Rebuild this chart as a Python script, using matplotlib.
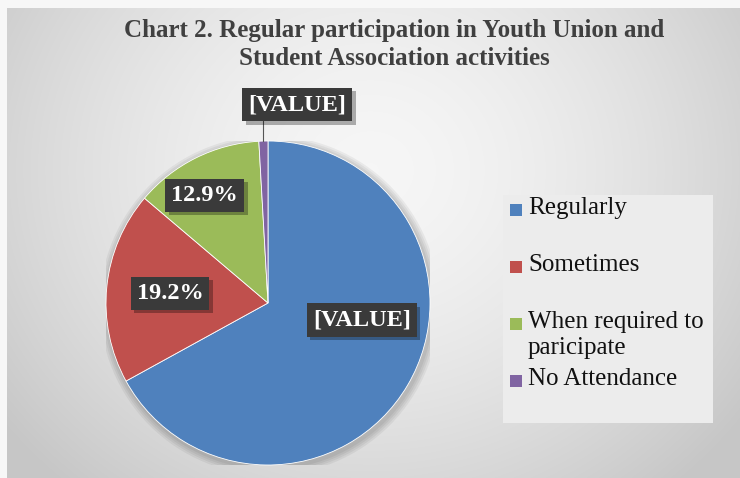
import numpy as np
import matplotlib
matplotlib.use("Agg")
import matplotlib.pyplot as plt
from matplotlib.patches import Rectangle
import matplotlib.patheffects as pe

# ---- data ----
categories = ["Regularly", "Sometimes", "When required to\nparicipate", "No Attendance"]
values = [67.0, 19.2, 12.9, 0.9]
label_texts = ["[VALUE]", "19.2%", "12.9%", "[VALUE]"]
colors = ["#4f81bd", "#c0504d", "#9bbb59", "#8064a2"]
title_lines = ["Chart 2. Regular participation in Youth Union and",
               "Student Association activities"]

W, H = 740, 478
fig = plt.figure(figsize=(W / 100, H / 100), dpi=100)

# background gradient
bg = fig.add_axes([0, 0, 1, 1])
yy, xx = np.mgrid[0:H, 0:W]
d = np.sqrt(((xx - 370) / 420.0) ** 2 + ((yy - 170) / 380.0) ** 2)
g = np.clip(0.965 - 0.16 * d ** 1.6, 0.78, 1)
img = np.dstack([g, g, g])
img[:8, :, :] = 0.97
img[:, :7, :] = 0.97
bg.imshow(img, extent=[0, W, H, 0], aspect="auto", interpolation="bilinear")
bg.set_xlim(0, W)
bg.set_ylim(H, 0)
bg.axis("off")

serif = ["Liberation Serif", "DejaVu Serif"]

for line, yb in zip(title_lines, [37, 65]):
    fig.text(394 / W, 1 - yb / H, line, ha="center", va="baseline", fontsize=18,
             fontweight="bold", family=serif, color="#404040")

# pie
cx, cy, R = 268, 303, 162
ax = fig.add_axes([(cx - R) / W, (H - cy - R) / H, 2 * R / W, 2 * R / H])
for k in range(4):
    ax.add_patch(plt.Circle((0.01, -0.015), 1.0 + 0.012 * (k + 1), color="black", alpha=0.05, lw=0))
wedges, _ = ax.pie(values, colors=colors, startangle=90, counterclock=False,
                   radius=1.0, wedgeprops=dict(linewidth=0.6, edgecolor="white"))
ax.set_xlim(-1.0, 1.0)
ax.set_ylim(-1.0, 1.0)
ax.set_aspect("equal")
ax.axis("off")

label_pos = [(0.58, -0.105), (-0.605, 0.06), (-0.39, 0.665), (0.18, 1.225)]
for txt, (x, y) in zip(label_texts, label_pos):
    t = ax.text(x, y, txt, ha="center", va="center", fontsize=17.5, fontweight="bold",
                family=serif, color="white",
                bbox=dict(boxstyle="square,pad=0.25", facecolor="#3a3a3a", edgecolor="none"),
                clip_on=False, zorder=5)
    t.get_bbox_patch().set_path_effects([
        pe.SimplePatchShadow(offset=(2.5, -2.5), shadow_rgbFace="black", alpha=0.3),
        pe.Normal()])
# leader line for smallest slice
ax.plot([-0.03, -0.03], [1.0, 1.14], color="#555555", lw=0.8, clip_on=False, zorder=4)

# legend (manual, Excel-like)
fig.patches.append(Rectangle((503 / W, 1 - 423 / H), 210 / W, 228 / H,
                             transform=fig.transFigure, facecolor="#ececec",
                             edgecolor="none", zorder=0.5))
leg_y = [210, 267, 324, 381]
for lab, col, y in zip(categories, colors, leg_y):
    fig.patches.append(Rectangle((510 / W, 1 - (y + 6) / H), 12 / W, 12 / H,
                                 transform=fig.transFigure, facecolor=col, edgecolor="none"))
    fig.text(528 / W, 1 - (y - 13) / H, lab, ha="left", va="top", fontsize=18,
             family=serif, color="#111111", linespacing=1.25)

fig.savefig("out.png", dpi=100)
